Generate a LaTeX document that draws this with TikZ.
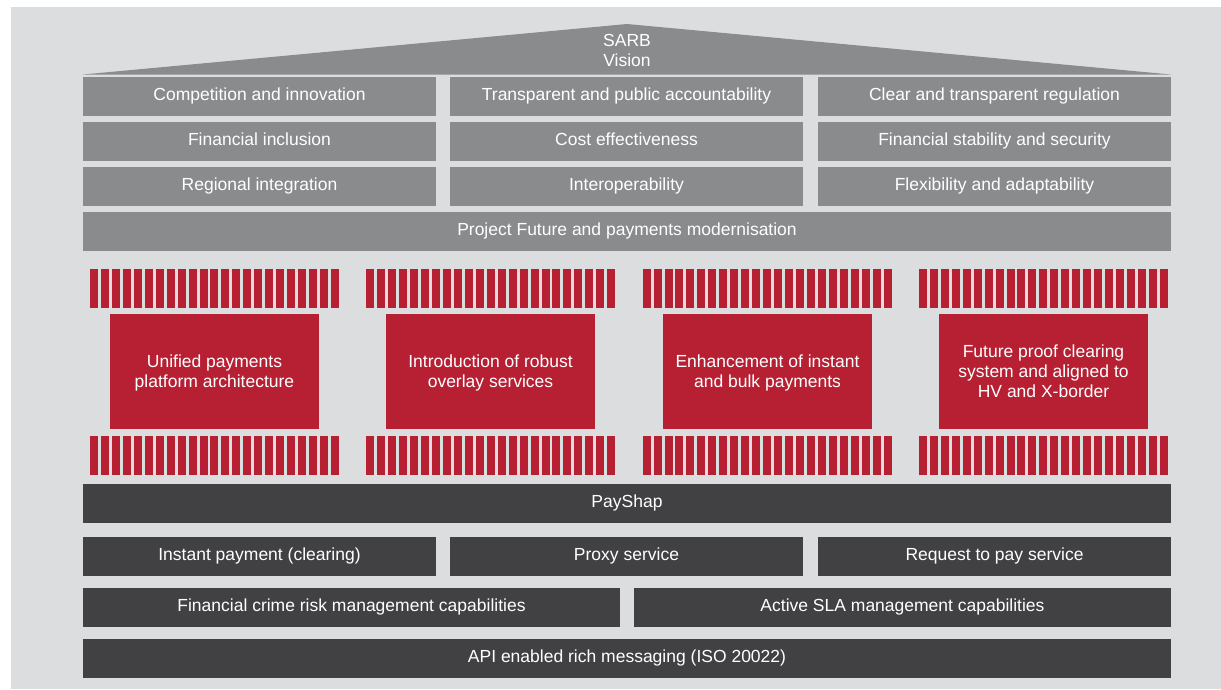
\documentclass[tikz,border=0pt]{standalone}
\usepackage{fontspec}
\setmainfont{Liberation Sans}
\definecolor{panel}{HTML}{DCDDDF}
\definecolor{midgray}{HTML}{8A8B8D}
\definecolor{sarbred}{HTML}{B72033}
\definecolor{charcoal}{HTML}{414143}
% pillar captions sit slightly below the optical centre
\newcommand{\pillartext}[1]{\raisebox{-2.5pt}[\height][\depth]{\begin{tabular}{@{}c@{}}#1\end{tabular}}}
\begin{document}
\begin{tikzpicture}[x=1pt,y=-1pt,
  every node/.style={inner sep=0pt,outer sep=0pt,anchor=north west,text=white,
    font=\fontsize{17.5}{20}\selectfont,align=center},
  barline/.style={text height=12.6pt,text depth=3.7pt,minimum height=38.7pt},
  graybox/.style={fill=midgray,barline},
  darkbox/.style={fill=charcoal,barline},
  redbox/.style={fill=sarbred,minimum width=209pt,minimum height=114.7pt},
  third/.style={minimum width=353pt},
  half/.style={minimum width=537pt},
  full/.style={minimum width=1088pt}]
\useasboundingbox (0,0) rectangle (1221,689);
% backdrop
\fill[panel] (11,7) rectangle (1221,689);
% roof
\fill[midgray] (83,74.5) -- (627,24) -- (1171,74.5) -- cycle;
\node[anchor=center] (vision) at (627,50) {SARB\\Vision};
% principles
\node[graybox,third] (p11) at (83,77)  {Competition and innovation};
\node[graybox,third] (p12) at (450,77) {Transparent and public accountability};
\node[graybox,third] (p13) at (818,77) {Clear and transparent regulation};
\node[graybox,third] (p21) at (83,122)  {Financial inclusion};
\node[graybox,third] (p22) at (450,122) {Cost effectiveness};
\node[graybox,third] (p23) at (818,122) {Financial stability and security};
\node[graybox,third] (p31) at (83,167)  {Regional integration};
\node[graybox,third] (p32) at (450,167) {Interoperability};
\node[graybox,third] (p33) at (818,167) {Flexibility and adaptability};
\node[graybox,full]  (proj) at (83,212) {Project Future and payments modernisation};
% pillar capitals and bases
\foreach \g in {0,...,3}{
  \foreach \i in {0,...,22}{
    \fill[sarbred] ({90+276.3*\g+10.95*\i},269) rectangle ++(8,38.7);
    \fill[sarbred] ({90+276.3*\g+10.95*\i},436) rectangle ++(8,38.7);
  }
}
% pillars
\node[redbox] (r1) at (110,314) {\pillartext{Unified payments\\platform architecture}};
\node[redbox] (r2) at (386,314) {\pillartext{Introduction of robust\\overlay services}};
\node[redbox] (r3) at (663,314) {\pillartext{Enhancement of instant\\and bulk payments}};
\node[redbox] (r4) at (939,314) {\pillartext{Future proof clearing\\system and aligned to\\HV and X-border}};
% foundation
\node[darkbox,full]  (pay) at (83,484) {PayShap};
\node[darkbox,third] (f1) at (83,537)  {Instant payment (clearing)};
\node[darkbox,third] (f2) at (450,537) {Proxy service};
\node[darkbox,third] (f3) at (818,537) {Request to pay service};
\node[darkbox,half]  (g1) at (83,588)  {Financial crime risk management capabilities};
\node[darkbox,half]  (g2) at (634,588) {Active SLA management capabilities};
\node[darkbox,full]  (api) at (83,639) {API enabled rich messaging (ISO 20022)};
\end{tikzpicture}
\end{document}
